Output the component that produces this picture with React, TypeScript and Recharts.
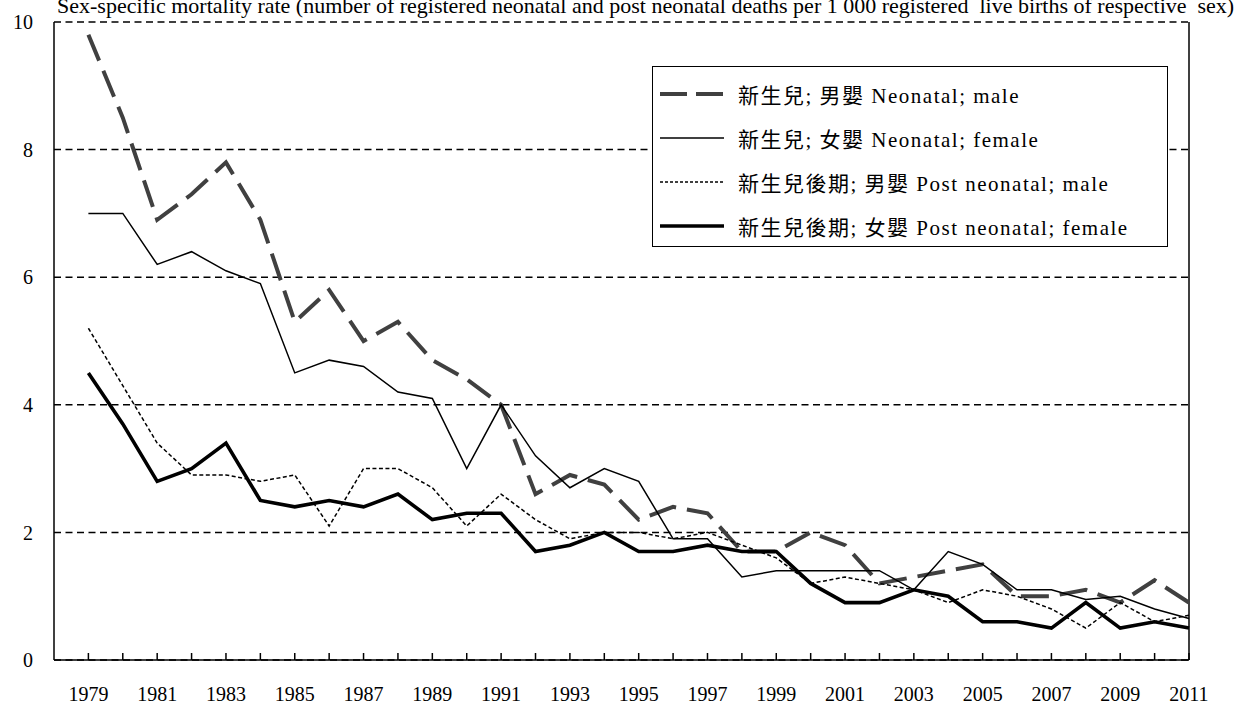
import { LineChart, Line, XAxis, YAxis, CartesianGrid, ReferenceLine } from 'recharts';

const years = [
  1979, 1980, 1981, 1982, 1983, 1984, 1985, 1986, 1987, 1988, 1989,
  1990, 1991, 1992, 1993, 1994, 1995, 1996, 1997, 1998, 1999, 2000,
  2001, 2002, 2003, 2004, 2005, 2006, 2007, 2008, 2009, 2010, 2011
];

const neonatalMale = [
  9.8, 8.5, 6.9, 7.3, 7.8, 6.9, 5.3, 5.8, 5.0, 5.3, 4.7,
  4.4, 4.0, 2.6, 2.9, 2.75, 2.2, 2.4, 2.3, 1.7, 1.7, 2.0,
  1.8, 1.2, 1.3, 1.4, 1.5, 1.0, 1.0, 1.1, 0.9, 1.25, 0.9
];
const neonatalFemale = [
  7.0, 7.0, 6.2, 6.4, 6.1, 5.9, 4.5, 4.7, 4.6, 4.2, 4.1,
  3.0, 4.0, 3.2, 2.7, 3.0, 2.8, 1.9, 1.9, 1.3, 1.4, 1.4,
  1.4, 1.4, 1.1, 1.7, 1.5, 1.1, 1.1, 0.95, 1.0, 0.8, 0.65
];
const postMale = [
  5.2, 4.3, 3.4, 2.9, 2.9, 2.8, 2.9, 2.1, 3.0, 3.0, 2.7,
  2.1, 2.6, 2.2, 1.9, 2.0, 2.0, 1.9, 2.0, 1.8, 1.6, 1.2,
  1.3, 1.2, 1.1, 0.9, 1.1, 1.0, 0.8, 0.5, 0.9, 0.6, 0.7
];
const postFemale = [
  4.5, 3.7, 2.8, 3.0, 3.4, 2.5, 2.4, 2.5, 2.4, 2.6, 2.2,
  2.3, 2.3, 1.7, 1.8, 2.0, 1.7, 1.7, 1.8, 1.7, 1.7, 1.2,
  0.9, 0.9, 1.1, 1.0, 0.6, 0.6, 0.5, 0.9, 0.5, 0.6, 0.5
];

const yTicks = [0, 2, 4, 6, 8, 10];

const title =
  'Sex-specific mortality rate (number of registered neonatal and post neonatal deaths per 1 000 registered  live births of respective  sex)';

const series = [
  { key: 'nm', name: '新生兒; 男嬰 Neonatal; male', color: '#404040', width: 4, dash: '28 11', legendDash: '27 9' },
  { key: 'nf', name: '新生兒; 女嬰 Neonatal; female', color: '#000', width: 1.5, dash: undefined, legendDash: undefined },
  { key: 'pm', name: '新生兒後期; 男嬰 Post neonatal; male', color: '#000', width: 1.5, dash: '4 2.5', legendDash: '3 2' },
  { key: 'pf', name: '新生兒後期; 女嬰 Post neonatal; female', color: '#000', width: 3.6, dash: undefined, legendDash: undefined }
];

const data = years.map((year, i) => ({
  year,
  nm: neonatalMale[i],
  nf: neonatalFemale[i],
  pm: postMale[i],
  pf: postFemale[i]
}));

const font = '"Liberation Serif", "Times New Roman", "Noto Sans CJK TC", serif';

function YearTick(props: any) {
  const { x, y, payload } = props;
  const yr = payload.value;
  return (
    <g>
      <line x1={x} x2={x} y1={y} y2={y - 7} stroke="#000" strokeWidth={1.5} />
      {yr % 2 === 1 && (
        <text x={x} y={y + 41} textAnchor="middle" fontSize={20} fill="#000" fontFamily={font}>
          {yr}
        </text>
      )}
    </g>
  );
}

export default function App() {
  return (
    <div style={{ position: 'absolute', left: 0, top: 0, width: 1247, height: 704, background: '#fff' }}>
      <LineChart width={1247} height={704} data={data} margin={{ top: 22, right: 58, bottom: 0, left: 0 }}>
        <text x={57} y={13} fontSize={22} fill="#000" fontFamily={font} style={{ whiteSpace: 'pre' }}>
          {title}
        </text>
        <CartesianGrid vertical={false} stroke="#000" strokeDasharray="7 4.5" strokeWidth={1.5} />
        <XAxis
          dataKey="year"
          type="number"
          domain={[1978, 2011]}
          ticks={years}
          interval={0}
          height={44}
          tickSize={0}
          tickMargin={0}
          tickLine={false}
          tick={<YearTick />}
          axisLine={{ stroke: '#000', strokeWidth: 1.5 }}
        />
        <YAxis
          domain={[0, 10]}
          ticks={yTicks}
          width={54}
          tickLine={false}
          tickSize={0}
          tickMargin={21}
          axisLine={{ stroke: '#000', strokeWidth: 1.5 }}
          tick={{ fill: '#000', fontSize: 20, fontFamily: font }}
        />
        <ReferenceLine x={2011} stroke="#000" strokeWidth={1.5} />
        {series.map((s) => (
          <Line
            key={s.key}
            dataKey={s.key}
            name={s.name}
            stroke={s.color}
            strokeWidth={s.width}
            strokeDasharray={s.dash}
            dot={false}
            activeDot={false}
            strokeLinejoin="miter"
            isAnimationActive={false}
          />
        ))}
      </LineChart>
      <div
        style={{
          position: 'absolute',
          left: 652,
          top: 66,
          width: 516,
          height: 181,
          border: '1.5px solid #000',
          boxSizing: 'border-box',
          background: '#fff',
          fontFamily: font,
          fontSize: 21,
          letterSpacing: 1.5,
          color: '#000',
          paddingTop: 5
        }}
      >
        {series.map((s) => (
          <div key={s.key} style={{ display: 'flex', alignItems: 'center', height: 44, paddingLeft: 7 }}>
            <svg width={64} height={10} style={{ marginRight: 14, flexShrink: 0 }}>
              <line x1={0} x2={64} y1={5} y2={5} stroke={s.color} strokeWidth={s.width} strokeDasharray={s.legendDash} />
            </svg>
            <span style={{ whiteSpace: 'pre' }}>{s.name}</span>
          </div>
        ))}
      </div>
    </div>
  );
}
